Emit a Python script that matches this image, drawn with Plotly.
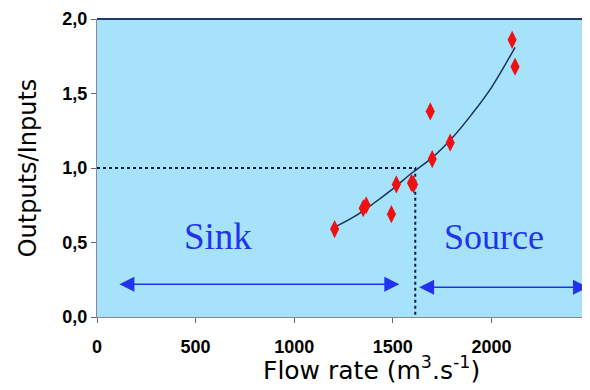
import plotly.graph_objects as go

# measured points (flow rate, outputs/inputs ratio)
flow = [1205, 1350, 1365, 1493, 1518, 1595, 1605, 1690, 1700, 1791, 2105, 2120]
ratio = [0.59, 0.73, 0.75, 0.69, 0.89, 0.90, 0.89, 1.38, 1.06, 1.17, 1.86, 1.68]

# trend curve
trend_x = [1200, 1300, 1400, 1500, 1600, 1700, 1800, 1900, 2000, 2120]
trend_y = [0.60, 0.67, 0.76, 0.86, 0.97, 1.07, 1.20, 1.36, 1.54, 1.81]

threshold = 1614

x_ticks = [0, 500, 1000, 1500, 2000]
y_ticks = [0.0, 0.5, 1.0, 1.5, 2.0]
y_labels = ["0,0", "0,5", "1,0", "1,5", "2,0"]

blue = "#2233ee"
navy = "#0a1a50"

fig = go.Figure()

# dotted threshold lines
fig.add_trace(go.Scatter(x=[0, threshold, threshold], y=[1.0, 1.0, 0.0], mode="lines",
                         line=dict(color=navy, width=2, dash="dot"), hoverinfo="skip"))

fig.add_trace(go.Scatter(x=trend_x, y=trend_y, mode="lines", line_shape="spline",
                         line=dict(color="#1a3060", width=1.5)))

fig.add_trace(go.Scatter(x=flow, y=ratio, mode="markers",
                         marker=dict(symbol="diamond-tall", size=13, color="#ee1111",
                                     line=dict(width=0))))

# sink / source arrows
for x0, x1, yy in [(106, 1533, 0.22), (1626, 2490, 0.20)]:
    fig.add_annotation(x=x1, y=yy, ax=x0, ay=yy, xref="x", yref="y", axref="x", ayref="y",
                       text="", showarrow=True, arrowhead=2, arrowside="end+start",
                       arrowsize=2.0, arrowwidth=1.5, arrowcolor=blue)

fig.add_annotation(x=612, y=0.54, text="Sink", showarrow=False,
                   font=dict(family="Liberation Serif", size=37, color=blue))
fig.add_annotation(x=2015, y=0.54, text="Source", showarrow=False,
                   font=dict(family="Liberation Serif", size=36, color=blue))

# x title sits right of centre in the original
fig.add_annotation(x=0.556, y=-0.235, xref="paper", yref="paper", showarrow=False,
                   text="Flow rate (m<sup>3</sup>.s<sup>-1</sup>)",
                   font=dict(family="DejaVu Sans", size=25, color="black"))

# top border line
fig.add_shape(type="line", xref="paper", yref="paper", x0=0, x1=1, y0=1, y1=1,
              line=dict(color="#1a3a70", width=2))

# page body has an 8px margin, so the figure is sized to fit the window
fig.update_layout(
    width=582, height=382,
    margin=dict(l=89, r=0, t=11, b=73, autoexpand=False),
    plot_bgcolor="#a6e2fa", paper_bgcolor="white",
    showlegend=False,
)
fig.update_xaxes(range=[0, 2500], tickvals=x_ticks, showgrid=False, zeroline=False,
                 showline=True, linecolor="#888888", linewidth=1,
                 ticks="outside", ticklen=5, tickcolor="#666666", ticklabelstandoff=8,
                 tickfont=dict(family="Liberation Sans", size=18, color="black", weight="bold"))
fig.update_yaxes(range=[0, 2], tickvals=y_ticks, ticktext=y_labels, showgrid=False,
                 zeroline=False, showline=True, linecolor="#888888", linewidth=1,
                 ticks="outside", ticklen=5, tickcolor="#666666",
                 tickfont=dict(family="Liberation Sans", size=18, color="black", weight="bold"),
                 title=dict(text="Outputs/Inputs", standoff=18,
                            font=dict(family="DejaVu Sans", size=24, color="black")))

fig.write_html("out.html")
